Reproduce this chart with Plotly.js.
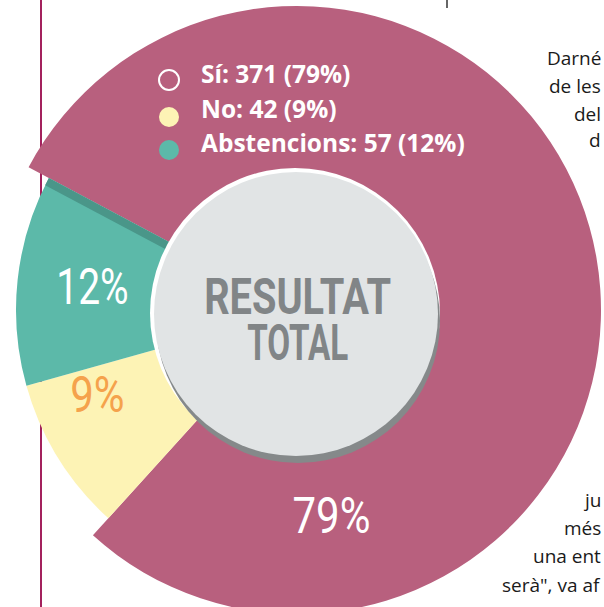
<!DOCTYPE html>
<html><head><meta charset="utf-8">
<script src="https://cdn.plot.ly/plotly-3.0.1.min.js"></script>
<style>
html,body{margin:0;padding:0;width:604px;height:607px;overflow:hidden;background:#fff;}
#wrap{position:absolute;left:0;top:0;width:604px;height:607px;overflow:hidden;}
#chart{position:absolute;left:-103px;top:-90px;width:800px;height:800px;}
</style></head><body>
<div id="wrap"><div id="chart"></div></div>
<script>
// ---- data ----
const categories = ['Sí', 'No', 'Abstencions'];
const votes = [371, 42, 57];
const sliceColors = ['#b8607e', '#fdf3b5', '#5cb9a9'];
const centerLabel = ['RESULTAT', 'TOTAL'];
const articleTop = ['Darné', 'de les', 'del', 'd'];
const articleBottom = ['ju', 'més', 'una ent', 'serà", va af'];

const total = votes.reduce((a, b) => a + b, 0);
const pcts = votes.map(v => Math.round(v / total * 100));

// ---- geometry (window pixels -> paper) ----
const W = 800, H = 800, OX = -103, OY = -90;
const px = X => (X - OX) / W;
const py = Y => 1 - (Y - OY) / H;
const CX = 297, CY = 310, R_OUT = 304, R_IN = 281, HOLE_R = 142, HCX = 296, HCY = 314;
const ROT = -62;
function dom(r) { return {x: [px(CX - r), px(CX + r)], y: [py(CY + r), py(CY - r)]}; }
const T = 'rgba(0,0,0,0)';

const base = {
  type: 'pie', labels: categories, values: votes, sort: false, direction: 'clockwise',
  rotation: ROT, textinfo: 'none', hoverinfo: 'skip', showlegend: false, hole: 0.4
};
const traces = [
  Object.assign({}, base, {domain: dom(R_OUT), marker: {colors: [sliceColors[0], T, T], line: {width: 0}}}),
  Object.assign({}, base, {domain: dom(R_IN), marker: {colors: [T, sliceColors[1], sliceColors[2]], line: {width: 0}}})
];

// boundary between last slice and first slice is at the rotation angle
const a = ((ROT % 360) + 360) % 360 * Math.PI / 180;
const pt = (r) => [CX + r * Math.sin(a), CY - r * Math.cos(a)];
const nrm = [-Math.cos(a), -Math.sin(a)];
const P1 = pt(HOLE_R - 5), P2 = pt(R_IN);
const bw = 8;
const P3 = [P2[0] + bw * nrm[0], P2[1] + bw * nrm[1]];
const P4 = [P1[0] + bw * nrm[0], P1[1] + bw * nrm[1]];
const bandPath = 'M' + [P1, P2, P3, P4].map(p => px(p[0]) + ',' + py(p[1])).join('L') + 'Z';

function circ(cx, cy, r, fill, line, lw) {
  return {type: 'circle', xref: 'paper', yref: 'paper', layer: 'above',
    x0: px(cx - r), x1: px(cx + r), y0: py(cy + r), y1: py(cy - r),
    fillcolor: fill, line: {color: line || T, width: lw || 0}};
}

const shapes = [
  {type: 'line', xref: 'paper', yref: 'paper', layer: 'below', x0: px(41), x1: px(41), y0: py(0), y1: py(607), line: {color: '#a3215d', width: 2}},
  {type: 'line', xref: 'paper', yref: 'paper', layer: 'below', x0: px(447), x1: px(447), y0: py(0), y1: py(8), line: {color: '#666', width: 2}},
  {type: 'path', xref: 'paper', yref: 'paper', layer: 'above', path: bandPath, fillcolor: '#4a9689', line: {width: 0}},
  circ(HCX - 1, HCY - 1, HOLE_R + 3, '#ffffff'),
  circ(HCX + 2, HCY + 7, HOLE_R, '#85898a'),
  circ(HCX, HCY, HOLE_R, '#e1e4e5'),
  // legend markers
  circ(169, 80, 10, T, '#ffffff', 2),
  circ(169, 117, 10, sliceColors[1]),
  circ(169, 150, 10, sliceColors[2])
];

const ann = [];
const squeeze = {};
function A(text, X, Y, opts, sx) {
  ann.push(Object.assign({text: text, x: px(X), y: py(Y), xref: 'paper', yref: 'paper', showarrow: false,
    xanchor: 'left', yanchor: 'middle'}, opts));
  if (sx) squeeze[text] = sx;
}
const legFont = {family: 'Open Sans, sans-serif', size: 24.5, color: '#ffffff', weight: 700};
const legY = [74, 108.5, 142.5];
categories.forEach((c, i) => A(c + ': ' + votes[i] + ' (' + pcts[i] + '%)', 199, legY[i], {font: legFont}));

const pctFont = (col) => ({family: 'Roboto, sans-serif', size: 50, color: col, weight: 400});
A(pcts[2] + '%', 92, 287, {xanchor: 'center', font: pctFont('#ffffff')}, 0.78);
A(pcts[1] + '%', 98, 395, {xanchor: 'center', font: pctFont('#f5a24c')}, 0.84);
A(pcts[0] + '%', 332, 516, {xanchor: 'center', font: pctFont('#ffffff')}, 0.84);

// centre label: one two-line text, line pitch tightened after drawing
const cFont = {family: 'Roboto, sans-serif', size: 50, color: '#818587', weight: 700};
A(centerLabel.join('<br>'), 297, 329.5, {xanchor: 'center', font: cFont});
const centerWidths = [187, 101];

const bodyFont = {family: 'Open Sans, Noto Sans, sans-serif', size: 19, color: '#1a1a1a'};
const topY = [65, 93, 121, 147];
const botY = [507, 535, 563, 592];
articleTop.forEach((t, i) => A(t, 603, topY[i] - 7, {xanchor: 'right', font: bodyFont}));
articleBottom.forEach((t, i) => A(t, 603, botY[i] - 7, {xanchor: 'right', font: bodyFont}));

Plotly.newPlot('chart', traces, {
  width: W, height: H, margin: {l: 0, r: 0, t: 0, b: 0},
  paper_bgcolor: 'rgba(0,0,0,0)', plot_bgcolor: 'rgba(0,0,0,0)',
  shapes: shapes, annotations: ann, showlegend: false
}, {displayModeBar: false, staticPlot: true}).then(() => {
  document.querySelectorAll('#chart text.annotation-text').forEach(el => {
    if (el.textContent === centerLabel.join('')) {
      const lines = el.querySelectorAll('tspan.line');
      lines.forEach((ts, i) => {
        if (i > 0) ts.setAttribute('dy', (i * 0.92) + 'em');
        ts.setAttribute('textLength', centerWidths[i]);
        ts.setAttribute('lengthAdjust', 'spacingAndGlyphs');
      });
      return;
    }
    const s = squeeze[el.textContent];
    if (!s) return;
    const bb = el.getBBox();
    const c = bb.x + bb.width / 2;
    el.setAttribute('transform', 'translate(' + c + ',0) scale(' + s + ',1) translate(' + (-c) + ',0)');
  });
});
</script>
</body></html>
